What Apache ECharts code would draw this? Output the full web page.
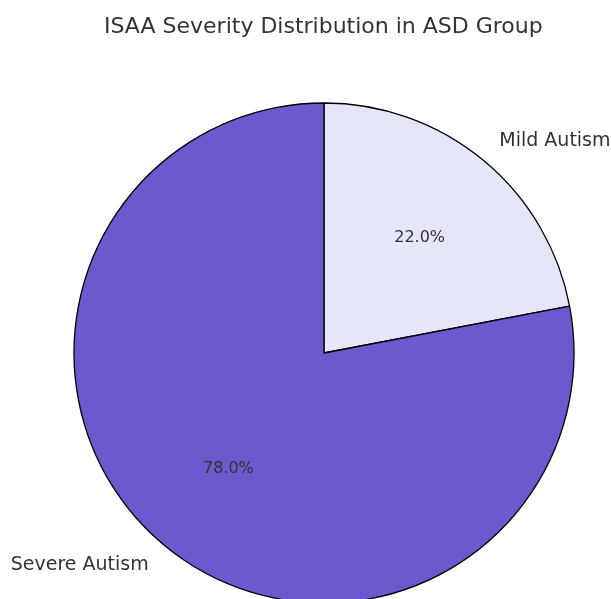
<!DOCTYPE html>
<html><head><meta charset="utf-8">
<script src="https://cdn.jsdelivr.net/npm/echarts@6/dist/echarts.min.js"></script>
<style>html,body{margin:0;padding:0;background:#fff}#c{width:611px;height:599px}</style>
</head><body><div id="c"></div>
<script>
const categories = ['Mild Autism', 'Severe Autism'];
const values = [22, 78];
const colors = ['#E6E6FA', '#6A5ACD'];
const titleText = 'ISAA Severity Distribution in ASD Group';

const chart = echarts.init(document.getElementById('c'), null, {renderer: 'canvas'});
const data = categories.map((n, i) => ({name: n, value: values[i], itemStyle: {color: colors[i]}}));
const total = values.reduce((a, b) => a + b, 0);
const font = 'DejaVu Sans';
chart.setOption({
  animation: false,
  title: {text: titleText, left: 99, top: 11,
    textStyle: {fontFamily: font, fontSize: 22, fontWeight: 'normal', color: '#333'}},
  series: [{
    type: 'pie', center: [324, 353], radius: [0, 250], startAngle: 90, clockwise: true,
    avoidLabelOverlap: false, silent: true,
    data: data,
    itemStyle: {borderColor: '#000', borderWidth: 1.3},
    label: {show: true, position: 'outside', formatter: '{b}', distanceToLabelLine: 0,
      fontFamily: font, fontSize: 19, color: '#333'},
    labelLine: {show: false, length: 25, length2: 0}
  }, {
    type: 'pie', center: [324, 353], radius: [44, 250], startAngle: 90, clockwise: true,
    avoidLabelOverlap: false, silent: true,
    data: categories.map((n, i) => ({name: n, value: values[i]})),
    itemStyle: {color: 'rgba(0,0,0,0)', borderWidth: 0},
    label: {show: true, position: 'inside',
      formatter: p => (p.value / total * 100).toFixed(1) + '%',
      fontFamily: font, fontSize: 16, color: '#333'},
    labelLine: {show: false}
  }]
});
</script></body></html>
